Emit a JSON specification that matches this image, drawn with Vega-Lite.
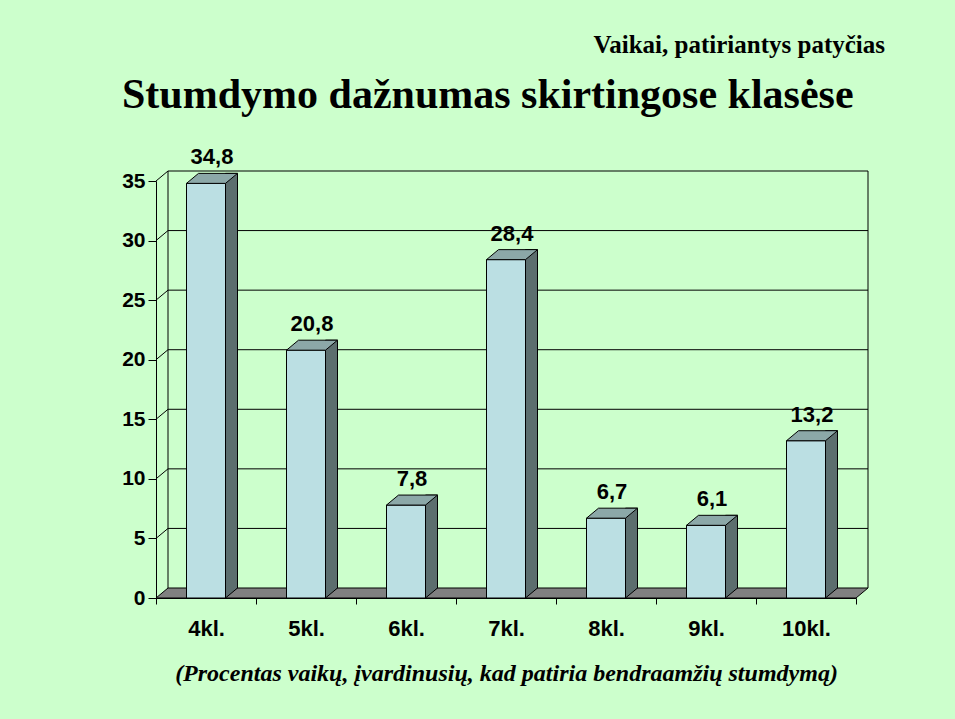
{
  "$schema": "https://vega.github.io/schema/vega-lite/v6.json",
  "width": 700,
  "height": 417,
  "autosize": {"type": "none"},
  "padding": {"left": 156, "top": 181, "right": 99, "bottom": 121},
  "background": "#CCFFCC",
  "config": {
    "view": {"stroke": null},
    "locale": {"number": {"decimal": ",", "thousands": " ", "grouping": [3], "currency": ["", ""]}}
  },
  "title": {
    "text": "Stumdymo dažnumas skirtingose klasėse",
    "font": "Liberation Serif",
    "fontWeight": "bold",
    "fontSize": 42,
    "color": "black",
    "anchor": "start",
    "frame": "group",
    "dx": -34,
    "baseline": "alphabetic",
    "offset": -117
  },
  "datasets": {
    "bars": [
      {"cls": "4kl.", "value": 34.8},
      {"cls": "5kl.", "value": 20.8},
      {"cls": "6kl.", "value": 7.8},
      {"cls": "7kl.", "value": 28.4},
      {"cls": "8kl.", "value": 6.7},
      {"cls": "9kl.", "value": 6.1},
      {"cls": "10kl.", "value": 13.2}
    ],
    "grid": [
      {"v": 5}, {"v": 10}, {"v": 15}, {"v": 20}, {"v": 25}, {"v": 30}, {"v": 35}
    ],
    "one": [{}]
  },
  "layer": [
    {
      "data": {"name": "one"},
      "mark": {"type": "point", "shape": "M-50,0 L650,0 L662,-10 L-38,-10 Z", "size": 4, "filled": true, "fill": "#808080", "stroke": "black", "strokeWidth": 1, "opacity": 1, "fillOpacity": 1},
      "encoding": {
        "x": {
          "datum": "4kl.", "type": "nominal",
          "scale": {"type": "band", "domain": ["4kl.", "5kl.", "6kl.", "7kl.", "8kl.", "9kl.", "10kl."], "paddingInner": 0, "paddingOuter": 0},
          "axis": {
            "title": "(Procentas vaikų, įvardinusių, kad patiria bendraamžių stumdymą)",
            "titleFont": "Liberation Serif", "titleFontStyle": "italic", "titleFontWeight": "bold", "titleFontSize": 24, "titleColor": "black", "titlePadding": 22,
            "labelAngle": 0, "labelFont": "Liberation Sans", "labelFontWeight": "bold", "labelFontSize": 22, "labelColor": "black", "labelPadding": 14,
            "tickBand": "extent", "tickSize": 6, "tickColor": "black", "domainColor": "black", "grid": false
          }
        },
        "y": {
          "datum": 0, "type": "quantitative",
          "scale": {"domain": [0, 35], "nice": false},
          "axis": {
            "title": null, "values": [0, 5, 10, 15, 20, 25, 30, 35], "tickSize": 8, "labelPadding": 3,
            "labelFont": "Liberation Sans", "labelFontWeight": "bold", "labelFontSize": 21, "labelColor": "black",
            "tickColor": "black", "domainColor": "black", "grid": false
          }
        }
      }
    },
    {
      "data": {"name": "grid"},
      "mark": {"type": "rule", "color": "black", "strokeWidth": 1, "xOffset": -38, "x2Offset": 62, "yOffset": -10},
      "encoding": {
        "x": {"datum": "4kl.", "type": "nominal"},
        "x2": {"datum": "10kl."},
        "y": {"field": "v", "type": "quantitative"}
      }
    },
    {
      "data": {"name": "grid"},
      "mark": {"type": "point", "shape": "M-50,0 L-38,-10", "size": 4, "filled": false, "stroke": "black", "strokeWidth": 1, "opacity": 1},
      "encoding": {
        "x": {"datum": "4kl.", "type": "nominal"},
        "y": {"field": "v", "type": "quantitative"}
      }
    },
    {
      "data": {"name": "one"},
      "mark": {"type": "rule", "color": "black", "strokeWidth": 1, "xOffset": -38, "yOffset": -10, "y2Offset": -10},
      "encoding": {
        "x": {"datum": "4kl.", "type": "nominal"},
        "y": {"datum": 0, "type": "quantitative"},
        "y2": {"datum": 35}
      }
    },
    {
      "data": {"name": "one"},
      "mark": {"type": "rule", "color": "black", "strokeWidth": 1, "xOffset": 62, "yOffset": -10, "y2Offset": -10},
      "encoding": {
        "x": {"datum": "10kl.", "type": "nominal"},
        "y": {"datum": 0, "type": "quantitative"},
        "y2": {"datum": 35}
      }
    },
    {
      "data": {"name": "bars"},
      "mark": {"type": "bar", "size": 12, "xOffset": 25.5, "yOffset": -10, "y2Offset": -10, "fill": "#5C6E6E", "stroke": "black", "strokeWidth": 1},
      "encoding": {
        "x": {"field": "cls", "type": "nominal", "sort": null},
        "y": {"field": "value", "type": "quantitative"},
        "y2": {"datum": 0}
      }
    },
    {
      "data": {"name": "bars"},
      "mark": {"type": "point", "shape": "M19.5,-11 L19.5,0 L31.5,-10 L31.5,-11", "size": 4, "filled": true, "fill": "#5C6E6E", "stroke": "black", "strokeWidth": 1, "opacity": 1, "fillOpacity": 1},
      "encoding": {
        "x": {"field": "cls", "type": "nominal", "sort": null},
        "y": {"datum": 0, "type": "quantitative"}
      }
    },
    {
      "data": {"name": "bars"},
      "mark": {"type": "bar", "size": 39, "fill": "#BBDFE3", "stroke": "black", "strokeWidth": 1},
      "encoding": {
        "x": {"field": "cls", "type": "nominal", "sort": null},
        "y": {"field": "value", "type": "quantitative"},
        "y2": {"datum": 0}
      }
    },
    {
      "data": {"name": "bars"},
      "mark": {"type": "point", "shape": "M-19.5,0 L19.5,0 L31.5,-10 L-7.5,-10 Z", "size": 4, "filled": true, "fill": "#8CA8A8", "stroke": "black", "strokeWidth": 1, "opacity": 1, "fillOpacity": 1},
      "encoding": {
        "x": {"field": "cls", "type": "nominal", "sort": null},
        "y": {"field": "value", "type": "quantitative"}
      }
    },
    {
      "data": {"name": "bars"},
      "mark": {"type": "text", "dx": 6, "dy": -19, "baseline": "alphabetic", "font": "Liberation Sans", "fontWeight": "bold", "fontSize": 22, "color": "black"},
      "encoding": {
        "x": {"field": "cls", "type": "nominal", "sort": null},
        "y": {"field": "value", "type": "quantitative"},
        "text": {"field": "value", "type": "quantitative", "format": ".1f"}
      }
    },
    {
      "data": {"name": "one"},
      "mark": {"type": "text", "text": "Vaikai, patiriantys patyčias", "font": "Liberation Serif", "fontWeight": "bold", "fontSize": 25, "color": "black", "align": "right", "baseline": "alphabetic", "dx": 79, "dy": -128},
      "encoding": {
        "x": {"datum": "10kl.", "type": "nominal"},
        "y": {"datum": 35, "type": "quantitative"}
      }
    }
  ]
}
